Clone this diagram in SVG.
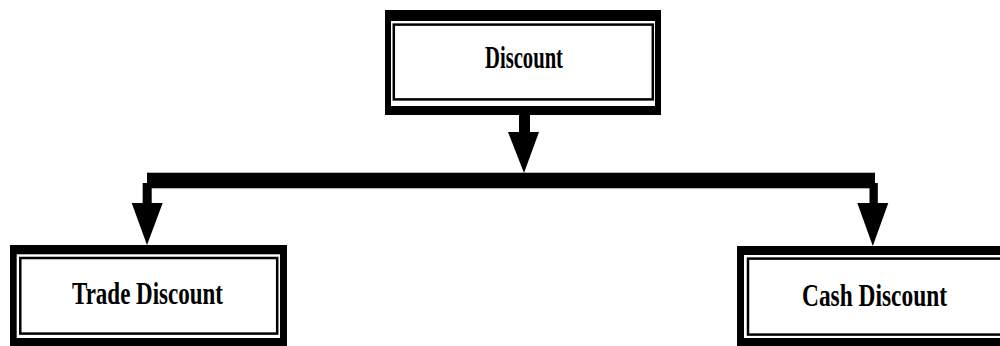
<svg xmlns="http://www.w3.org/2000/svg" width="1000" height="346" viewBox="0 0 1000 346">
<style>
.outer{fill:#000}
.gap{fill:#fff}
.inner{fill:#fff;stroke:#000;stroke-width:2.5}
.lbl{font-family:"Liberation Serif","Times New Roman",serif;font-weight:bold;font-size:32.5px;fill:#000;text-anchor:middle}
.conn{fill:#000}
</style>
<rect width="1000" height="346" fill="#fff"/>
<g id="node-discount">
<rect class="outer" x="385" y="10" width="276" height="105"/>
<rect class="gap" x="391" y="21" width="264" height="85"/>
<rect class="inner" x="393.8" y="24.6" width="259" height="74.8"/>
<text class="lbl" x="524" y="68" textLength="78" lengthAdjust="spacingAndGlyphs">Discount</text>
</g>
<g id="node-trade">
<rect class="outer" x="10" y="245" width="277" height="101"/>
<rect class="gap" x="16.7" y="254.3" width="263.3" height="83.7"/>
<rect class="inner" x="20.3" y="258" width="256.9" height="75.6"/>
<text class="lbl" x="147.5" y="303.5" textLength="151" lengthAdjust="spacingAndGlyphs">Trade Discount</text>
</g>
<g id="node-cash">
<rect class="outer" x="737" y="246" width="263" height="100"/>
<rect class="gap" x="744" y="255" width="256" height="83"/>
<rect class="inner" x="748" y="258.6" width="253.5" height="76"/>
<text class="lbl" x="874.5" y="305.5" textLength="145" lengthAdjust="spacingAndGlyphs">Cash Discount</text>
</g>
<g id="connectors">
<rect class="conn" x="519" y="114" width="11" height="19"/>
<polygon class="conn" points="508,132 539,132 524,173"/>
<rect class="conn" x="147" y="172.7" width="728" height="15.6"/>
<rect class="conn" x="142.7" y="183" width="9" height="21"/>
<polygon class="conn" points="131.7,203 162.7,203 147,245"/>
<rect class="conn" x="869.5" y="183" width="8.3" height="21"/>
<polygon class="conn" points="857.3,203 888.3,203 872.8,246"/>
</g>
</svg>
